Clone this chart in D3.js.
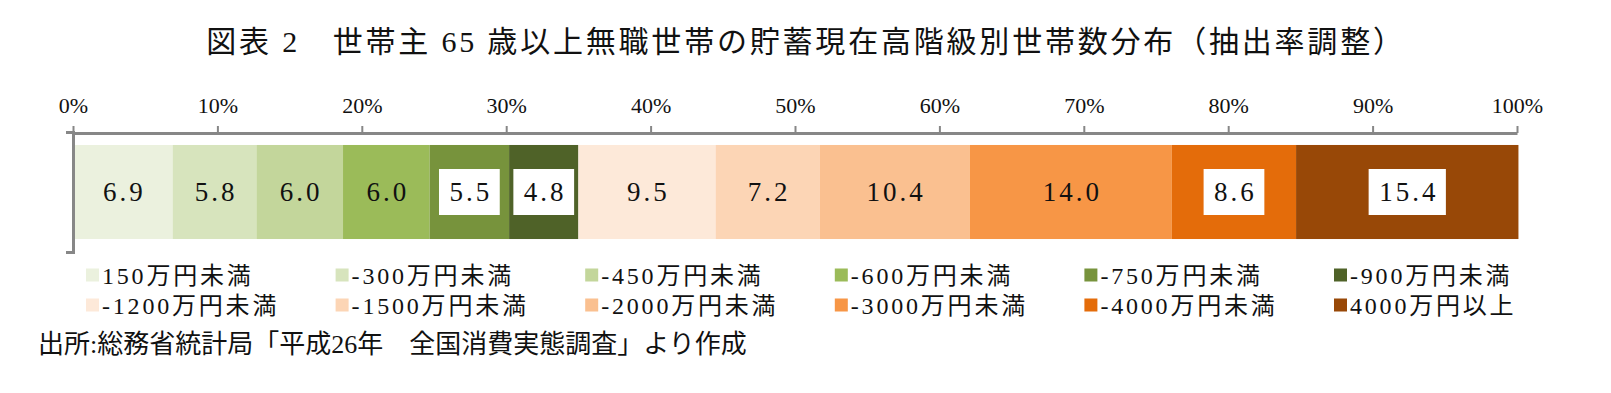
<!DOCTYPE html>
<html><head><meta charset="utf-8">
<script src="https://cdn.jsdelivr.net/npm/d3@7"></script>
<style>
body{margin:0;background:#fff;}
text{font-family:"Liberation Serif","Noto Sans CJK JP",serif;fill:#111;}
</style></head>
<body><svg id="c" width="1611" height="393"></svg>
<script>
const titleText = "図表 2　世帯主 65 歳以上無職世帯の貯蓄現在高階級別世帯数分布（抽出率調整）";
const sourceText = "出所:総務省統計局「平成26年　全国消費実態調査」より作成";
const categories = ["150万円未満","-300万円未満","-450万円未満","-600万円未満","-750万円未満","-900万円未満",
  "-1200万円未満","-1500万円未満","-2000万円未満","-3000万円未満","-4000万円未満","4000万円以上"];
const values = [6.9,5.8,6.0,6.0,5.5,4.8,9.5,7.2,10.4,14.0,8.6,15.4];
const colors = ["#EBF1DE","#D7E4BD","#C3D69B","#9BBB59","#77933C","#4F6228",
  "#FDE9D9","#FCD5B5","#FAC090","#F79646","#E46C0A","#984807"];
const boxed = [false,false,false,false,true,true,false,false,false,false,true,true];
const tickValues = [0,10,20,30,40,50,60,70,80,90,100];
const rowLabel = ["世帯数分布"];

const svg = d3.select("#c");
const x = d3.scaleLinear().domain([0,100]).range([73,1517]);
const y = d3.scaleBand().domain(rowLabel).range([132,252]).paddingInner(0).paddingOuter(0.138);

// title
svg.append("text").attr("x",806).attr("y",52).attr("text-anchor","middle")
  .style("font-size","30px").style("letter-spacing","2.8px").style("white-space","pre").text(titleText);

// stacked data
let cum = 0;
const segs = values.map((v,i)=>{const s={v,i,x0:cum,x1:cum+v};cum+=v;return s;});

const g = svg.append("g");
g.selectAll("rect.bar").data(segs).join("rect").attr("class","bar")
  .attr("x",d=>x(d.x0)).attr("width",d=>x(d.x1)-x(d.x0))
  .attr("y",y(rowLabel[0])).attr("height",y.bandwidth())
  .attr("fill",d=>colors[d.i]);

// x axis (top)
const axisColor = "#878787";
const xa = svg.append("g").attr("transform","translate(0,133)")
  .call(d3.axisTop(x).tickValues(tickValues).tickFormat(d=>d+"%").tickSize(7).tickSizeOuter(0).tickPadding(13));
xa.select(".domain").attr("stroke",axisColor).attr("stroke-width",3);
xa.selectAll(".tick line").attr("stroke",axisColor).attr("stroke-width",2);
xa.selectAll(".tick text").style("font-size","22px").attr("fill","#111").style("font-family","Liberation Serif");

// y axis
const ya = svg.append("g").attr("transform","translate(73,0)")
  .call(d3.axisLeft(y).tickValues([]).tickSizeOuter(7));
ya.select(".domain").attr("stroke",axisColor).attr("stroke-width",3).attr("fill","none");

// data labels
const lg = svg.append("g");
segs.forEach(d=>{
  const cx = (x(d.x0)+x(Math.min(d.x1,100.2)))/2;
  const cy = y(rowLabel[0]) + y.bandwidth()/2;
  const t = lg.append("text").attr("x",cx+1.5).attr("y",cy+9).attr("text-anchor","middle")
    .style("font-size","27px").style("letter-spacing","3px").text(d.v.toFixed(1));
  if (boxed[d.i]) {
    const w = t.node().getComputedTextLength() - 3;
    lg.insert("rect","text").attr("x",cx-w/2-10.5).attr("y",cy-23).attr("width",w+21).attr("height",46).attr("fill","#fff");
  }
});

// legend
const lx = d3.scaleLinear().domain([0,5]).range([86,1334]);
const ly = d3.scaleLinear().domain([0,1]).range([275,305]);
const leg = svg.append("g");
categories.forEach((c,i)=>{
  const col=i%6,row=Math.floor(i/6);
  leg.append("rect").attr("x",lx(col)).attr("y",ly(row)-6.5).attr("width",13).attr("height",13).attr("fill",colors[i]);
  leg.append("text").attr("x",lx(col)+16).attr("y",ly(row)+8.5).style("font-size","24px").style("letter-spacing","2.8px").text(c);
});

// source
svg.append("text").attr("x",38).attr("y",353).style("font-size","26px").style("white-space","pre").text(sourceText);
</script></body></html>
